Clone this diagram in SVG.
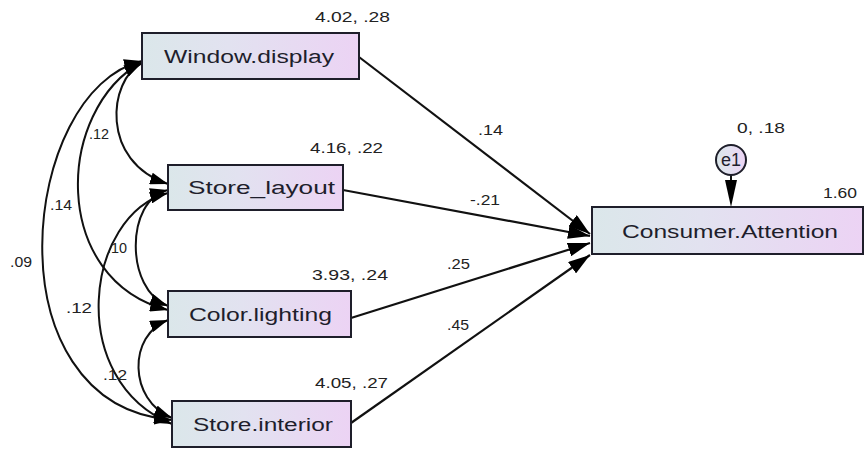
<svg xmlns="http://www.w3.org/2000/svg" width="867" height="451" viewBox="0 0 867 451">
<style>
.box{stroke:#1e1e2a;stroke-width:2;fill:url(#g)}
.lbl{font-family:"Liberation Sans",Arial,sans-serif;font-size:18px;fill:#1e1e2c}
.num{font-family:"Liberation Sans",Arial,sans-serif;font-size:14px;fill:#222}
.cov{fill:none;stroke:#111;stroke-width:2;marker-start:url(#ah);marker-end:url(#ah)}
.path{fill:none;stroke:#111;stroke-width:2.2;marker-end:url(#ahb)}
</style>
<defs>
<linearGradient id="g" x1="0" y1="0" x2="1" y2="0">
<stop offset="0" stop-color="#dbe7ea"/>
<stop offset="0.4" stop-color="#e2e2f0"/>
<stop offset="1" stop-color="#ecd3f4"/>
</linearGradient>
<marker id="ah" markerUnits="userSpaceOnUse" markerWidth="18" markerHeight="12" refX="18" refY="6" orient="auto-start-reverse" viewBox="0 0 18 12">
<path d="M0,0 L18,6 L0,12 z" fill="#000"/>
</marker>
<marker id="ahb" markerUnits="userSpaceOnUse" markerWidth="22" markerHeight="14" refX="22" refY="7" orient="auto" viewBox="0 0 22 14">
<path d="M0,0 L22,7 L0,14 z" fill="#000"/>
</marker>
</defs>
<rect width="867" height="451" fill="#fff"/>
<g id="connectors">
<path class="cov" d="M142,63 C108,80 100,162 168,184"/>
<path class="cov" d="M142,62 C55,110 50,280 168,310"/>
<path class="cov" d="M142,61 C20,90 -12,405 172,420"/>
<path class="cov" d="M168,190 C125,200 125,290 168,306"/>
<path class="cov" d="M168,193 C85,215 65,380 172,424"/>
<path class="cov" d="M168,320 C128,335 128,400 172,418"/>
<path class="path" d="M359,57 L590,234"/>
<path class="path" d="M343,190 L590,236"/>
<path class="path" d="M351,318 L590,243"/>
<path class="path" d="M351,423 L590,255"/>
<path d="M731,175 L731,190" stroke="#111" stroke-width="2"/>
<path d="M725,180 L737,180 L731,207 z" fill="#000"/>
<text class="num" x="89" y="139" textLength="20" lengthAdjust="spacingAndGlyphs">.12</text>
<text class="num" x="50" y="210" textLength="22" lengthAdjust="spacingAndGlyphs">.14</text>
<text class="num" x="10" y="267" textLength="22" lengthAdjust="spacingAndGlyphs">.09</text>
<text class="num" x="107" y="253" textLength="20" lengthAdjust="spacingAndGlyphs">.10</text>
<text class="num" x="66" y="313" textLength="26" lengthAdjust="spacingAndGlyphs">.12</text>
<text class="num" x="103" y="380" textLength="24" lengthAdjust="spacingAndGlyphs">.12</text>
<text class="num" x="478" y="135" textLength="25" lengthAdjust="spacingAndGlyphs">.14</text>
<text class="num" x="470" y="205" textLength="30" lengthAdjust="spacingAndGlyphs">-.21</text>
<text class="num" x="447" y="269" textLength="23" lengthAdjust="spacingAndGlyphs">.25</text>
<text class="num" x="447" y="330" textLength="22" lengthAdjust="spacingAndGlyphs">.45</text>
</g>
<g id="window_display">
<rect class="box" x="142" y="33" width="217" height="46"/>
<text class="lbl" x="164" y="63" textLength="170" lengthAdjust="spacingAndGlyphs">Window.display</text>
<text class="num" x="315" y="22" textLength="75" lengthAdjust="spacingAndGlyphs">4.02, .28</text>
</g>
<g id="store_layout">
<rect class="box" x="168" y="165" width="175" height="45"/>
<text class="lbl" x="188" y="194" textLength="147" lengthAdjust="spacingAndGlyphs">Store_layout</text>
<text class="num" x="310" y="153" textLength="73" lengthAdjust="spacingAndGlyphs">4.16, .22</text>
</g>
<g id="color_lighting">
<rect class="box" x="168" y="291" width="183" height="46"/>
<text class="lbl" x="189" y="321" textLength="143" lengthAdjust="spacingAndGlyphs">Color.lighting</text>
<text class="num" x="312" y="280" textLength="76" lengthAdjust="spacingAndGlyphs">3.93, .24</text>
</g>
<g id="store_interior">
<rect class="box" x="172" y="401" width="179" height="46"/>
<text class="lbl" x="193" y="431" textLength="140" lengthAdjust="spacingAndGlyphs">Store.interior</text>
<text class="num" x="315" y="388" textLength="73" lengthAdjust="spacingAndGlyphs">4.05, .27</text>
</g>
<g id="consumer_attention">
<rect class="box" x="592" y="207" width="271" height="47"/>
<text class="lbl" x="622" y="238" textLength="216" lengthAdjust="spacingAndGlyphs">Consumer.Attention</text>
<text class="num" x="823" y="198" textLength="34" lengthAdjust="spacingAndGlyphs">1.60</text>
</g>
<g id="e1">
<circle cx="731" cy="160" r="15" fill="url(#g)" stroke="#1e1e2a" stroke-width="2"/>
<text class="lbl" x="731" y="166" text-anchor="middle" font-size="17">e1</text>
<text class="num" x="737" y="133" textLength="48" lengthAdjust="spacingAndGlyphs">0, .18</text>
</g>
</svg>
